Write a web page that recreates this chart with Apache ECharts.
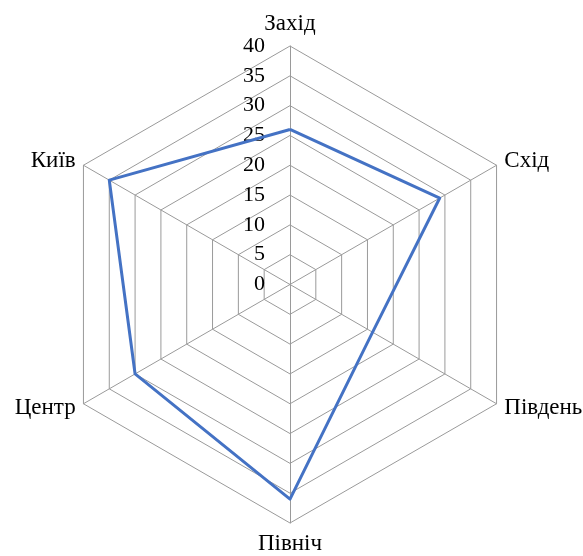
<!DOCTYPE html>
<html>
<head>
<meta charset="utf-8">
<script src="https://cdn.jsdelivr.net/npm/echarts@6/dist/echarts.min.js"></script>
<style>html,body{margin:0;padding:0;background:#fff}#c{width:583px;height:556px}</style>
</head>
<body>
<div id="c"></div>
<script>
// Categories in counterclockwise order starting from top
const categories = ['Захід', 'Київ', 'Центр', 'Північ', 'Південь', 'Схід'];
const values = [26, 35, 30, 36, 16, 29];
const axisMax = 40;
const tickStep = 5;

const FONT = '"Liberation Serif", "Times New Roman", serif';
const chart = echarts.init(document.getElementById('c'), null, {renderer: 'canvas'});
chart.setOption({
  animation: false,
  radar: {
    center: [290, 284.5],
    radius: 238.5,
    startAngle: 90,
    splitNumber: axisMax / tickStep,
    shape: 'polygon',
    indicator: categories.map((n, i) => i === 0
      ? {name: n, min: 0, max: axisMax, axisLabel: {show: true}}
      : {name: n, min: 0, max: axisMax}),
    axisName: {color: '#000', fontSize: 23, fontFamily: FONT},
    nameGap: 9,
    axisLine: {lineStyle: {color: '#9a9a9a', width: 1}},
    splitLine: {lineStyle: {color: '#9a9a9a', width: 1}},
    splitArea: {show: false},
    axisTick: {show: false},
    axisLabel: {show: false, color: '#000', fontSize: 22, fontFamily: FONT, margin: 25, padding: [3, 0, 0, 0], showMinLabel: true, showMaxLabel: true}
  },
  series: [{
    type: 'radar',
    symbol: 'none',
    lineStyle: {color: '#4472C4', width: 3},
    data: [{value: values}]
  }]
});
</script>
</body>
</html>
